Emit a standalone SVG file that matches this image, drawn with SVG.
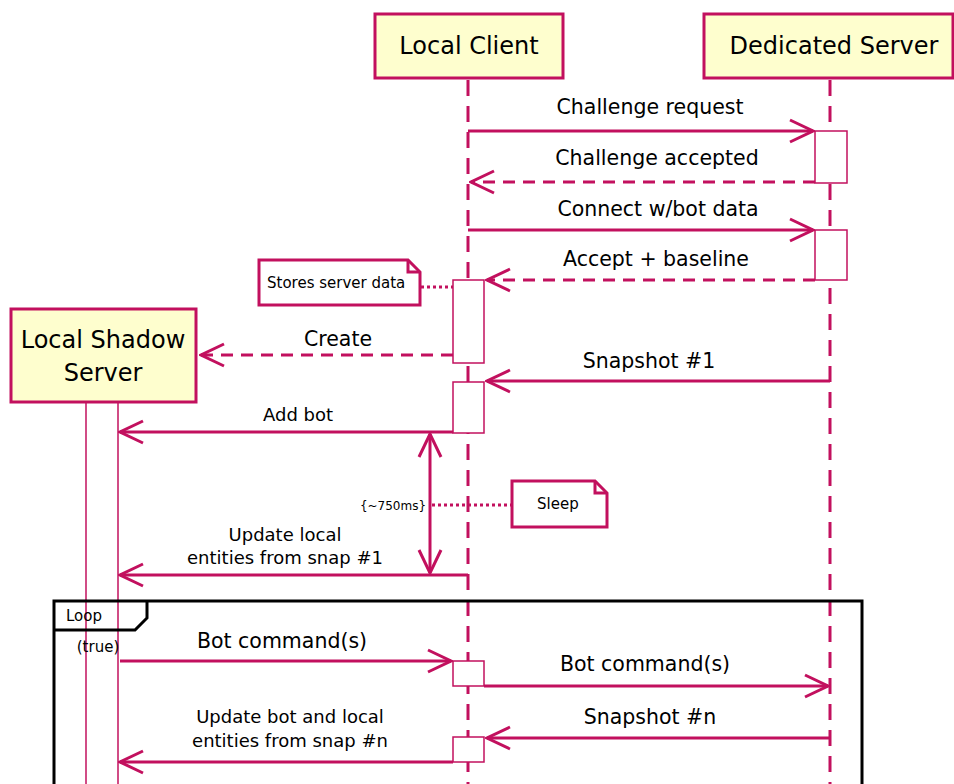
<svg xmlns="http://www.w3.org/2000/svg" width="954" height="784" viewBox="0 0 954 784">
<style>
  text { font-family: "DejaVu Sans", "Liberation Sans", sans-serif; fill: #000; }
  .part { fill: #FEFECE; stroke: #C2105E; stroke-width: 3; }
  .ptext { font-size: 24px; text-anchor: middle; }
  .life { stroke: #C2105E; stroke-width: 3; stroke-dasharray: 16 10; fill: none; }
  .act { fill: #fff; stroke: #C2105E; stroke-width: 1.5; }
  .msg { stroke: #C2105E; stroke-width: 3; fill: none; }
  .dash { stroke-dasharray: 12 8; }
  .dot { stroke: #C2105E; stroke-width: 3; stroke-dasharray: 3 3; fill: none; }
  .mtext { font-size: 20.5px; text-anchor: middle; }
  .stext { font-size: 18px; text-anchor: middle; }
  .note { fill: #fff; stroke: #C2105E; stroke-width: 3; }
  .ntext { font-size: 15px; }
  .frame { fill: none; stroke: #000; stroke-width: 3; }
</style>
<defs>
  <marker id="open" viewBox="0 0 28 28" refX="26" refY="14" markerWidth="28" markerHeight="28" markerUnits="userSpaceOnUse" orient="auto-start-reverse">
    <path d="M3,3 L26,14 L3,25" fill="none" stroke="#C2105E" stroke-width="3"/>
  </marker>
</defs>
<rect width="954" height="784" fill="#fff"/>

<!-- lifelines -->
<g id="lifelines">
  <line class="life" x1="468" y1="80" x2="468" y2="784"/>
  <line class="life" x1="830" y1="80" x2="830" y2="784"/>
  <line x1="86" y1="403" x2="86" y2="784" stroke="#C2105E" stroke-width="1.5"/>
  <line x1="118" y1="403" x2="118" y2="784" stroke="#C2105E" stroke-width="1.5"/>
</g>

<!-- loop frame -->
<g id="loop">
  <rect class="frame" x="54" y="601" width="808" height="200"/>
  <path class="frame" d="M54,630 L135,630 L147,618 L147,601"/>
  <text x="66" y="621" font-size="15">Loop</text>
  <text x="98" y="652" font-size="15" text-anchor="middle">(true)</text>
</g>

<!-- participants -->
<g id="local-client">
  <rect class="part" x="375" y="14" width="188" height="64"/>
  <text class="ptext" x="469" y="54">Local Client</text>
</g>
<g id="dedicated-server">
  <rect class="part" x="704" y="14" width="249" height="64"/>
  <text class="ptext" x="834" y="54">Dedicated Server</text>
</g>
<g id="local-shadow-server">
  <rect class="part" x="11" y="309" width="185" height="93"/>
  <text class="ptext" x="103" y="348">Local Shadow</text>
  <text class="ptext" x="103" y="381">Server</text>
</g>

<!-- activations -->
<g id="activations">
  <rect class="act" x="815" y="131" width="32" height="52"/>
  <rect class="act" x="815" y="230" width="32" height="50"/>
  <rect class="act" x="453" y="280" width="31" height="83"/>
  <rect class="act" x="453" y="382" width="31" height="51"/>
  <rect class="act" x="453" y="661" width="31" height="25"/>
  <rect class="act" x="453" y="737" width="31" height="25"/>
</g>

<!-- notes -->
<g id="note-stores">
  <path class="note" d="M259,260 L408,260 L420,272 L420,305 L259,305 Z"/>
  <path d="M408,260 L408,272 L420,272" fill="none" stroke="#C2105E" stroke-width="3"/>
  <text class="ntext" x="267" y="288">Stores server data</text>
</g>
<g id="note-sleep">
  <path class="note" d="M512,481 L595,481 L607,493 L607,527 L512,527 Z"/>
  <path d="M595,481 L595,493 L607,493" fill="none" stroke="#C2105E" stroke-width="3"/>
  <text class="ntext" x="537" y="509">Sleep</text>
</g>

<!-- connectors -->
<g id="connectors">
  <line class="msg" x1="468" y1="131" x2="813" y2="131" marker-end="url(#open)"/>
  <text class="mtext" x="650" y="114">Challenge request</text>

  <line class="msg dash" x1="815" y1="182" x2="471" y2="182" marker-end="url(#open)"/>
  <text class="mtext" x="657" y="165">Challenge accepted</text>

  <line class="msg" x1="468" y1="230" x2="813" y2="230" marker-end="url(#open)"/>
  <text class="mtext" x="658" y="216">Connect w/bot data</text>

  <line class="msg dash" x1="815" y1="280" x2="487" y2="280" marker-end="url(#open)"/>
  <text class="mtext" x="656" y="266">Accept + baseline</text>

  <line class="dot" x1="421" y1="287" x2="453" y2="287"/>

  <line class="msg dash" x1="453" y1="355" x2="201" y2="355" marker-end="url(#open)"/>
  <text class="mtext" x="338" y="346">Create</text>

  <line class="msg" x1="830" y1="381" x2="487" y2="381" marker-end="url(#open)"/>
  <text class="mtext" x="649" y="368">Snapshot #1</text>

  <line class="msg" x1="453" y1="432" x2="120" y2="432" marker-end="url(#open)"/>
  <text class="stext" x="298" y="421">Add bot</text>

  <line class="msg" x1="430" y1="434" x2="430" y2="573" marker-start="url(#open)" marker-end="url(#open)"/>
  <text x="393" y="510" font-size="12" text-anchor="middle">{~750ms}</text>
  <line class="dot" x1="432" y1="505" x2="511" y2="505"/>

  <line class="msg" x1="468" y1="575" x2="120" y2="575" marker-end="url(#open)"/>
  <text class="stext" x="285" y="541">Update local</text>
  <text class="stext" x="285" y="564">entities from snap #1</text>

  <line class="msg" x1="120" y1="661" x2="451" y2="661" marker-end="url(#open)"/>
  <text class="mtext" x="282" y="648">Bot command(s)</text>

  <line class="msg" x1="484" y1="686" x2="828" y2="686" marker-end="url(#open)"/>
  <text class="mtext" x="645" y="671">Bot command(s)</text>

  <line class="msg" x1="830" y1="738" x2="487" y2="738" marker-end="url(#open)"/>
  <text class="mtext" x="650" y="724">Snapshot #n</text>

  <line class="msg" x1="453" y1="762" x2="120" y2="762" marker-end="url(#open)"/>
  <text class="stext" x="290" y="723">Update bot and local</text>
  <text class="stext" x="290" y="747">entities from snap #n</text>
</g>
</svg>
